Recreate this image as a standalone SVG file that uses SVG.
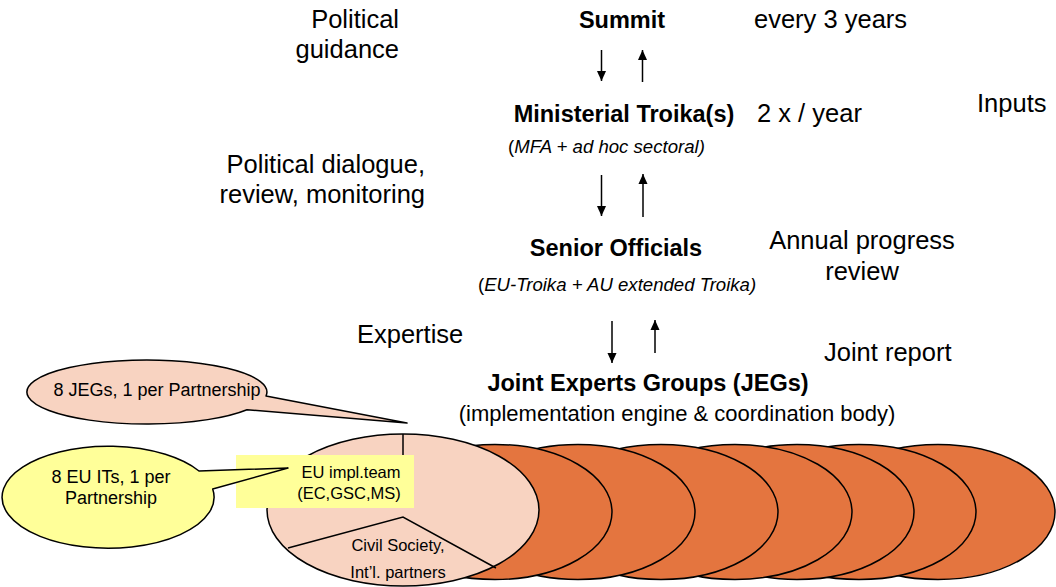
<svg xmlns="http://www.w3.org/2000/svg" width="1056" height="587" viewBox="0 0 1056 587">
<style>
text{font-family:"Liberation Sans",Arial,sans-serif;fill:#000}
.lbl{font-size:25.5px}
.b{font-size:23.5px;font-weight:bold;text-anchor:middle}
.it{font-size:18.6px;font-style:italic}
.sm{font-size:16.5px;text-anchor:middle}
.co{font-size:18px;text-anchor:middle}
.org{fill:#E4753F;stroke:#000;stroke-width:1.5}
.pale{fill:#F8D3C1;stroke:#000;stroke-width:1.5}
.ln{stroke:#000;stroke-width:1.5;fill:none}
.arr{stroke:#000;stroke-width:1.5;fill:none;marker-end:url(#ah)}
</style>
<defs>
<marker id="ah" markerUnits="userSpaceOnUse" markerWidth="10" markerHeight="11" refX="11" refY="5" orient="auto" viewBox="0 0 11 10">
<path d="M0,0 L11,5 L0,10 z" fill="#000"/>
</marker>
</defs>
<rect width="1056" height="587" fill="#fff"/>

<g id="side-labels">
<text class="lbl" x="399" y="28" text-anchor="end">Political</text>
<text class="lbl" x="399" y="58" text-anchor="end">guidance</text>
<text class="lbl" x="425" y="173" text-anchor="end">Political dialogue,</text>
<text class="lbl" x="425" y="203" text-anchor="end">review, monitoring</text>
<text class="lbl" x="357" y="343">Expertise</text>
<text class="lbl" x="754" y="28">every 3 years</text>
<text class="lbl" x="757" y="122">2 x / year</text>
<text class="lbl" x="977" y="112">Inputs</text>
<text class="lbl" x="862" y="249" text-anchor="middle">Annual progress</text>
<text class="lbl" x="862" y="280" text-anchor="middle">review</text>
<text class="lbl" x="824" y="361">Joint report</text>
</g>

<g id="summit"><text class="b" x="622" y="28">Summit</text></g>
<g id="ministerial">
<text class="b" x="624" y="122">Ministerial Troika(s)</text>
<text class="it" x="508" y="153"><tspan font-style="normal">(</tspan>MFA + ad hoc sectoral)</text>
</g>
<g id="senior">
<text class="b" x="616" y="256">Senior Officials</text>
<text class="it" x="478" y="291"><tspan font-style="normal">(</tspan>EU-Troika + AU extended Troika)</text>
</g>
<g id="jeg">
<text class="b" x="648" y="391">Joint Experts Groups (JEGs)</text>
<text x="677" y="421" font-size="22" text-anchor="middle">(implementation engine &amp; coordination body)</text>
</g>

<g id="connectors">
<line class="arr" x1="601.5" y1="50" x2="601.5" y2="81"/>
<line class="arr" x1="642.5" y1="82" x2="642.5" y2="50"/>
<line class="arr" x1="601.5" y1="175" x2="601.5" y2="216"/>
<line class="arr" x1="643" y1="217" x2="643" y2="174"/>
<line class="arr" x1="612" y1="321" x2="612" y2="363"/>
<line class="arr" x1="655" y1="353" x2="655" y2="320"/>
</g>

<g id="jeg-stack">
<ellipse class="org" cx="938" cy="512" rx="117" ry="67.5"/>
<ellipse class="org" cx="859" cy="512" rx="117" ry="67.5"/>
<ellipse class="org" cx="797" cy="512" rx="117" ry="67.5"/>
<ellipse class="org" cx="735" cy="512" rx="117" ry="67.5"/>
<ellipse class="org" cx="661" cy="512" rx="117" ry="67.5"/>
<ellipse class="org" cx="578" cy="512" rx="117" ry="67.5"/>
<ellipse class="org" cx="495" cy="512" rx="117" ry="67.5"/>
</g>

<g id="jeg-pie">
<ellipse class="pale" cx="403" cy="510" rx="136" ry="76"/>
<path class="ln" d="M403,434 L403,460 M288,548 L403,517 L496,568"/>
<text class="sm" x="398" y="551">Civil Society,</text>
<text class="sm" x="398" y="578">Int’l. partners</text>
</g>

<g id="eu-team">
<rect x="236" y="455" width="178" height="53" fill="#FFFF99"/>
<text class="sm" x="351" y="478">EU impl.team</text>
<text class="sm" x="349" y="499">(EC,GSC,MS)</text>
</g>

<g id="callout-jegs">
<path d="M266,396 L407,423 L247,409.7 A120,32 0 1 1 266,396 Z" fill="#F8D3C1" stroke="#000" stroke-width="1.5" stroke-linejoin="round"/>
<text class="co" x="157" y="396">8 JEGs, 1 per Partnership</text>
</g>

<g id="callout-its">
<path d="M199,471 L288,468 L212.7,489 A106,51 0 1 1 199,471 Z" fill="#FFFF99" stroke="#000" stroke-width="1.5" stroke-linejoin="round"/>
<text class="co" x="111" y="483">8 EU ITs, 1 per</text>
<text class="co" x="111" y="504">Partnership</text>
</g>
</svg>
